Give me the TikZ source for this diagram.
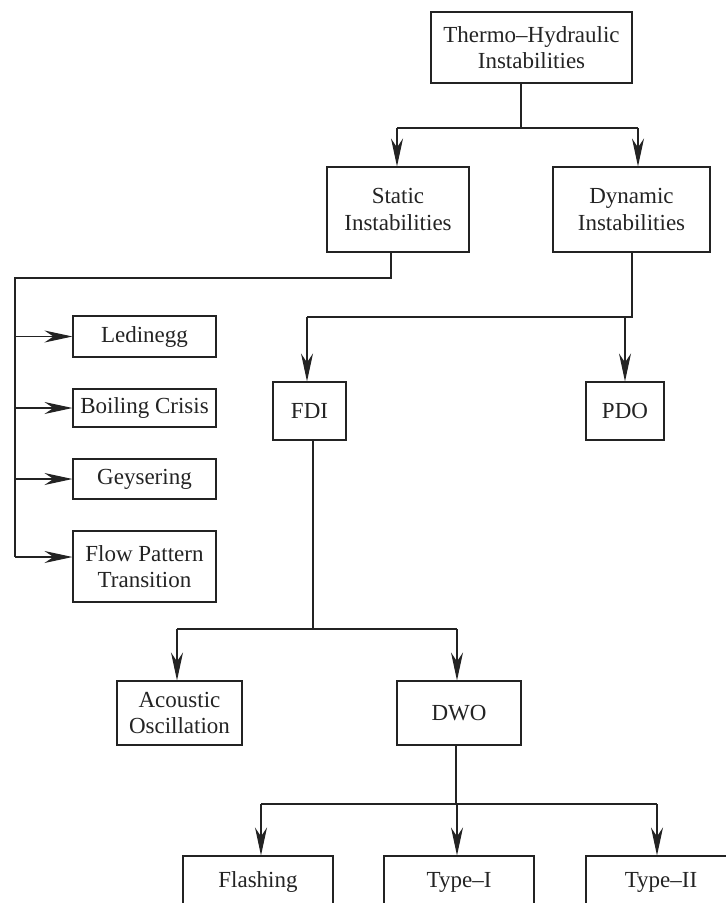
\documentclass[tikz,border=0pt]{standalone}
\usepackage{fontspec}
\setmainfont{Liberation Serif}
\usetikzlibrary{arrows.meta}
\definecolor{ink}{RGB}{35,35,35}
\begin{document}
\begin{tikzpicture}[x=1pt,y=-1pt,
  box/.style={draw=ink,line width=1.1pt,inner sep=0pt,align=center,text=ink,
    font=\fontsize{23}{26.5}\selectfont},
  link/.style={draw=ink,line width=1.1pt},
  arr/.style={link,-{Stealth[length=28pt,width=12pt,inset=9pt]}}]
\useasboundingbox (0,0) rectangle (726,903);
% boxes
\node[box,minimum width=201pt,minimum height=71pt] (top) at (531.5,47.5) {Thermo--Hydraulic\\Instabilities};
\node[box,minimum width=142pt,minimum height=85pt] (static) at (398,209.5) {Static\\Instabilities};
\node[box,minimum width=157pt,minimum height=85pt] (dynamic) at (631.5,209.5) {Dynamic\\Instabilities};
\node[box,minimum width=143pt,minimum height=41pt] (led) at (144.5,336.5) {Ledinegg};
\node[box,minimum width=143pt,minimum height=38pt] (boil) at (144.5,408) {Boiling Crisis};
\node[box,minimum width=143pt,minimum height=40pt] (gey) at (144.5,479) {Geysering};
\node[box,minimum width=143pt,minimum height=71pt] (fpt) at (144.5,566.5) {Flow Pattern\\Transition};
\node[box,minimum width=73pt,minimum height=58pt] (fdi) at (309.5,411) {FDI};
\node[box,minimum width=78pt,minimum height=58pt] (pdo) at (625,411) {PDO};
\node[box,minimum width=125pt,minimum height=64pt] (ac) at (179.5,713) {Acoustic\\Oscillation};
\node[box,minimum width=124pt,minimum height=64pt] (dwo) at (459,713) {DWO};
\node[box,minimum width=150pt,minimum height=52pt] (fla) at (258,882) {Flashing};
\node[box,minimum width=150pt,minimum height=52pt] (t1) at (459,882) {Type--I};
\node[box,minimum width=150pt,minimum height=52pt] (t2) at (661,882) {Type--II};
% junction points
\coordinate (a0) at (521,128);
\coordinate (a1) at (397,128);
\coordinate (a2) at (638,128);
\coordinate (b0) at (391,278);
\coordinate (b1) at (15,278);
\coordinate (b2) at (15,557);
\coordinate (c0) at (632,317);
\coordinate (c1) at (307,317);
\coordinate (c2) at (625,317);
\coordinate (d0) at (313,629);
\coordinate (d1) at (177,629);
\coordinate (d2) at (457,629);
\coordinate (e0) at (456,804);
\coordinate (e1) at (261,804);
\coordinate (e2) at (457,804);
\coordinate (e3) at (657,804);
% top level
\draw[link] (a0 |- top.south) -- (a0);
\draw[link] (a1) -- (a2);
\draw[arr] (a1) -- (a1 |- static.north);
\draw[arr] (a2) -- (a2 |- dynamic.north);
% static branch
\draw[link] (b0 |- static.south) -- (b0) -- (b1) -- (b2);
\draw[arr] (b1 |- led.west) -- (led.west);
\draw[arr] (b1 |- boil.west) -- (boil.west);
\draw[arr] (b1 |- gey.west) -- (gey.west);
\draw[arr] (b2) -- (b2 -| fpt.west);
% dynamic branch
\draw[link] (c0 |- dynamic.south) -- (c0) -- (c1);
\draw[arr] (c1) -- (c1 |- fdi.north);
\draw[arr] (c2) -- (c2 |- pdo.north);
% FDI branch
\draw[link] (d0 |- fdi.south) -- (d0);
\draw[link] (d1) -- (d2);
\draw[arr] (d1) -- (d1 |- ac.north);
\draw[arr] (d2) -- (d2 |- dwo.north);
% DWO branch
\draw[link] (e0 |- dwo.south) -- (e0);
\draw[link] (e1) -- (e3);
\draw[arr] (e1) -- (e1 |- fla.north);
\draw[arr] (e2) -- (e2 |- t1.north);
\draw[arr] (e3) -- (e3 |- t2.north);
\end{tikzpicture}
\end{document}
